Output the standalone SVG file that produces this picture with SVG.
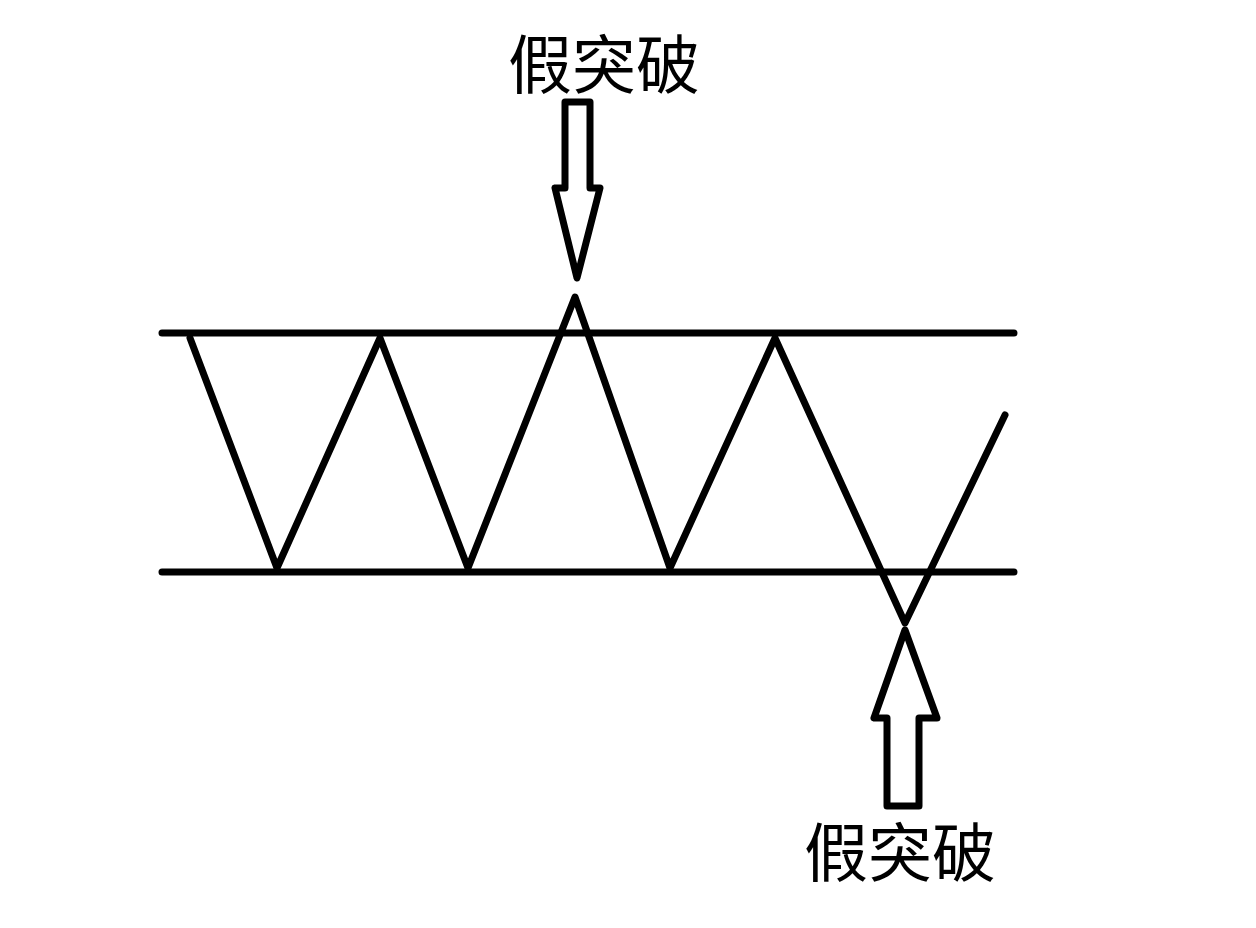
<svg xmlns="http://www.w3.org/2000/svg" width="1256" height="928" viewBox="0 0 1256 928">
<style>
.l{fill:none;stroke:#000;stroke-width:7;stroke-linejoin:round;stroke-linecap:round}
.t{font-family:"Noto Sans CJK SC",sans-serif;font-size:64px;fill:#000;text-anchor:middle}
</style>
<rect width="1256" height="928" fill="#fff"/>
<g id="channel">
<line class="l" x1="162" y1="333" x2="1014" y2="333"/>
<line class="l" x1="162" y1="572" x2="1014" y2="572"/>
</g>
<g id="connectors">
<polyline class="l" points="190,338 277,568 380,338 468,568 575,297 670,568 775,338 905,623 1005,415"/>
<path id="arrow-top" class="l" d="M565,102 H590 V188 H600 L577,278 L555,188 H565 Z"/>
<path id="arrow-bottom" class="l" d="M887,806 H919 V718 H937 L905,630 L874,718 H887 Z"/>
</g>
<g id="label-top"><text class="t" x="604" y="88">假突破</text></g>
<g id="label-bottom"><text class="t" x="900" y="876">假突破</text></g>
</svg>
